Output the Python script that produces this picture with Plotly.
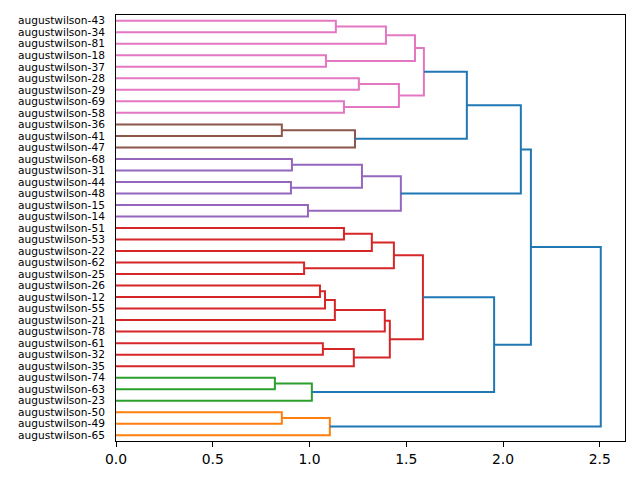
import plotly.graph_objects as go

# Leaf labels, top to bottom
labels = ["augustwilson-43", "augustwilson-34", "augustwilson-81", "augustwilson-18",
          "augustwilson-37", "augustwilson-28", "augustwilson-29", "augustwilson-69",
          "augustwilson-58", "augustwilson-36", "augustwilson-41", "augustwilson-47",
          "augustwilson-68", "augustwilson-31", "augustwilson-44", "augustwilson-48",
          "augustwilson-15", "augustwilson-14", "augustwilson-51", "augustwilson-53",
          "augustwilson-22", "augustwilson-62", "augustwilson-25", "augustwilson-26",
          "augustwilson-12", "augustwilson-55", "augustwilson-21", "augustwilson-78",
          "augustwilson-61", "augustwilson-32", "augustwilson-35", "augustwilson-74",
          "augustwilson-63", "augustwilson-23", "augustwilson-50", "augustwilson-49",
          "augustwilson-65"]

# cluster id of each leaf (same order as labels)
leaf_cluster = [6]*9 + [5]*3 + [4]*6 + [3]*13 + [2]*3 + [1]*3

# merges: (child_a, child_b, distance); new node ids start at len(labels)
merge_a = [0, 37, 3, 38, 5, 7, 41, 40, 9, 45, 44, 12, 14, 48, 16, 50, 47,
           18, 54, 21, 55, 23, 58, 59, 60, 28, 62, 61, 57, 31, 66, 65, 53, 34, 70, 69]
merge_b = [1, 2, 4, 39, 6, 8, 42, 43, 10, 11, 46, 13, 15, 49, 17, 51, 52,
           19, 20, 22, 56, 24, 25, 26, 27, 29, 30, 63, 64, 32, 33, 67, 68, 35, 36, 71]
merge_d = [1.136, 1.395, 1.085, 1.545, 1.255, 1.178, 1.462, 1.591, 0.857, 1.235, 1.813,
           0.909, 0.904, 1.271, 0.992, 1.472, 2.092,
           1.178, 1.322, 0.972, 1.436, 1.054, 1.080, 1.131, 1.389, 1.069, 1.229, 1.415, 1.586,
           0.821, 1.012, 1.954, 2.144, 0.857, 1.105, 2.505]

palette = {0: "#1f77b4", 1: "#ff7f0e", 2: "#2ca02c", 3: "#d62728",
           4: "#9467bd", 5: "#8c564b", 6: "#e377c2"}

n = len(labels)
ypos = [5 + 10 * (n - 1 - i) for i in range(n)]
hgt = [0.0] * n
clus = list(leaf_cluster)

fig = go.Figure()
for a, b, d in zip(merge_a, merge_b, merge_d):
    c = clus[a] if clus[a] == clus[b] else 0
    fig.add_trace(go.Scatter(
        x=[hgt[a], d, d, hgt[b]], y=[ypos[a], ypos[a], ypos[b], ypos[b]],
        mode="lines", line=dict(color=palette[c], width=2),
        showlegend=False, hoverinfo="skip"))
    ypos.append((ypos[a] + ypos[b]) / 2)
    hgt.append(d)
    clus.append(c)

xmax = max(merge_d) * 1.05
fig.update_layout(
    width=640, height=480,
    margin=dict(l=116, r=15, t=15, b=39),
    paper_bgcolor="white", plot_bgcolor="white",
    font=dict(family="DejaVu Sans", color="black"),
)
fig.update_xaxes(range=[0, xmax], tickvals=[0, 0.5, 1.0, 1.5, 2.0, 2.5],
                 ticktext=["0.0", "0.5", "1.0", "1.5", "2.0", "2.5"],
                 showgrid=False, zeroline=False, showline=True, linecolor="black",
                 linewidth=1, mirror=True, ticks="outside", ticklen=5, tickwidth=1,
                 tickcolor="black", tickfont=dict(size=13.9))
fig.update_yaxes(range=[0, 10 * n], tickvals=[5 + 10 * (n - 1 - i) for i in range(n)],
                 ticktext=labels, showgrid=False, zeroline=False, showline=True,
                 linecolor="black", linewidth=1, mirror=True, ticks="",
                 tickfont=dict(size=10.6), ticklabelstandoff=8)
fig.write_html("out.html")
